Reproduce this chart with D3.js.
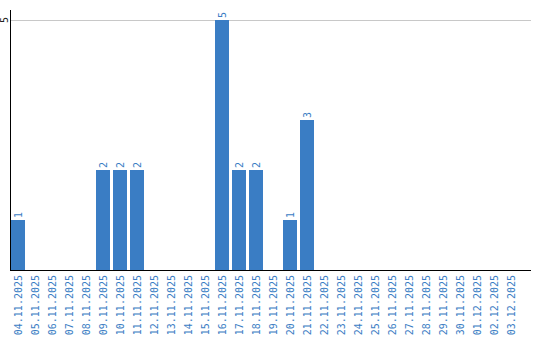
<!DOCTYPE html>
<html>
<head>
<meta charset="utf-8">
<script src="https://cdn.jsdelivr.net/npm/d3@7"></script>
<style>
  body { margin: 0; background: #fff; }
  text { font-family: "DejaVu Sans Mono", monospace; font-size: 10px; }
</style>
</head>
<body>
<div id="chart"></div>
<script>
let width = 540;
let height = 340;

let dates = ["04.11.2025","05.11.2025","06.11.2025","07.11.2025","08.11.2025","09.11.2025",
  "10.11.2025","11.11.2025","12.11.2025","13.11.2025","14.11.2025","15.11.2025","16.11.2025",
  "17.11.2025","18.11.2025","19.11.2025","20.11.2025","21.11.2025","22.11.2025","23.11.2025",
  "24.11.2025","25.11.2025","26.11.2025","27.11.2025","28.11.2025","29.11.2025","30.11.2025",
  "01.12.2025","02.12.2025","03.12.2025"]
let counts = [1,0,0,0,0,2,2,2,0,0,0,0,5,2,2,0,1,3,0,0,0,0,0,0,0,0,0,0,0,0]
let yTicks = [5]

let blue = "#3a7dc4"

let svg = d3.select('#chart')
            .append('svg')
            .attr('width', width)
            .attr('height', height)

let xScale = d3.scaleBand()
                .domain(dates)
                .range([9.5, 519.5])
                .paddingInner(3/17)
                .paddingOuter(1.5/17)

let yScale = d3.scaleLinear()
                .domain([0, 5])
                .range([270, 20])

// gridline
svg.selectAll('.grid')
    .data(yTicks)
    .enter()
    .append('line')
    .attr('x1', 10)
    .attr('x2', 531)
    .attr('y1', d => yScale(d) + 0.5)
    .attr('y2', d => yScale(d) + 0.5)
    .attr('stroke', '#c8c8c8')

// bars
svg.selectAll('.bar')
    .data(dates)
    .enter()
    .append('rect')
    .attr('x', d => xScale(d))
    .attr('width', xScale.bandwidth())
    .attr('y', (d, i) => yScale(counts[i]))
    .attr('height', (d, i) => yScale(0) - yScale(counts[i]))
    .attr('fill', blue)

// value labels
svg.selectAll('.val')
    .data(dates.filter((d, i) => counts[i] > 0))
    .enter()
    .append('text')
    .attr('transform', d => {
        let v = counts[dates.indexOf(d)]
        return "translate(" + (xScale(d) + xScale.bandwidth()/2 + 3.5) + "," + (yScale(v) - 2) + ") rotate(-90)"
    })
    .attr('fill', blue)
    .text(d => counts[dates.indexOf(d)])

// y axis
svg.append('line')
    .attr('x1', 10.5).attr('x2', 10.5)
    .attr('y1', 10).attr('y2', 270)
    .attr('stroke', '#000')

svg.selectAll('.ytick')
    .data(yTicks)
    .enter()
    .append('text')
    .attr('transform', d => "translate(8," + yScale(d) + ") rotate(-90)")
    .attr('text-anchor', 'middle')
    .attr('fill', '#222')
    .text(d => d)

// x axis
svg.append('line')
    .attr('x1', 10).attr('x2', 531)
    .attr('y1', 270.5).attr('y2', 270.5)
    .attr('stroke', '#000')

svg.selectAll('.xlab')
    .data(dates)
    .enter()
    .append('text')
    .attr('transform', d => "translate(" + (xScale(d) + xScale.bandwidth()/2 + 3.5) + ",275) rotate(-90)")
    .attr('text-anchor', 'end')
    .attr('fill', blue)
    .text(d => d)
</script>
</body>
</html>
